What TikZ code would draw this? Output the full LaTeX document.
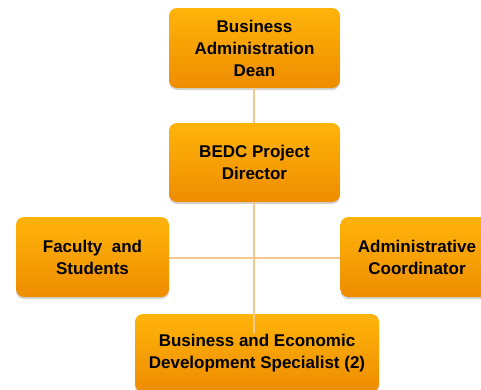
\documentclass[tikz,border=0pt]{standalone}
\usepackage{fontspec}
\setmainfont{Liberation Sans}
\usetikzlibrary{shadows}
\definecolor{boxtop}{RGB}{255,180,10}
\definecolor{boxbot}{RGB}{238,140,0}
\definecolor{linkc}{RGB}{246,200,140}
\tikzset{
  orgbox/.style={rounded corners=8pt, top color=boxtop, bottom color=boxbot,
    draw=none, align=center, inner sep=0pt,
    font=\fontsize{17}{22}\selectfont\bfseries,
    drop shadow={shadow xshift=0pt, shadow yshift=-2pt, opacity=0.35, fill=gray}},
  link/.style={draw=linkc, line width=1.2pt}
}
\begin{document}
\begin{tikzpicture}[x=1pt,y=-1pt]
\useasboundingbox (0,0) rectangle (481,389);
\clip (0,0) rectangle (481,389);
\coordinate (dirx) at (254,202);
\coordinate (specin) at (254,333);
\node[orgbox, minimum width=171pt, minimum height=80pt] (dean) at (254.5,48) {Business\\Administration\\Dean};
\node[orgbox, minimum width=171pt, minimum height=79pt] (dir) at (254.5,162.5) {BEDC Project\\Director};
\node[orgbox, minimum width=153pt, minimum height=80pt] (fac) at (92.5,257) {Faculty\ \ and\\Students};
\node[orgbox, minimum width=153pt, minimum height=80pt] (adm) at (417,257) {Administrative\\Coordinator};
\node[orgbox, minimum width=244pt, minimum height=78pt] (spec) at (257,353) {Business and Economic\\Development Specialist (2)};
\draw[link] (dean.south -| dirx) -- (dir.north -| dirx);
\draw[link] (fac.east |- 0,258) -- (adm.west |- 0,258);
\draw[link] (dir.south -| dirx) -- (specin);
\end{tikzpicture}
\end{document}
